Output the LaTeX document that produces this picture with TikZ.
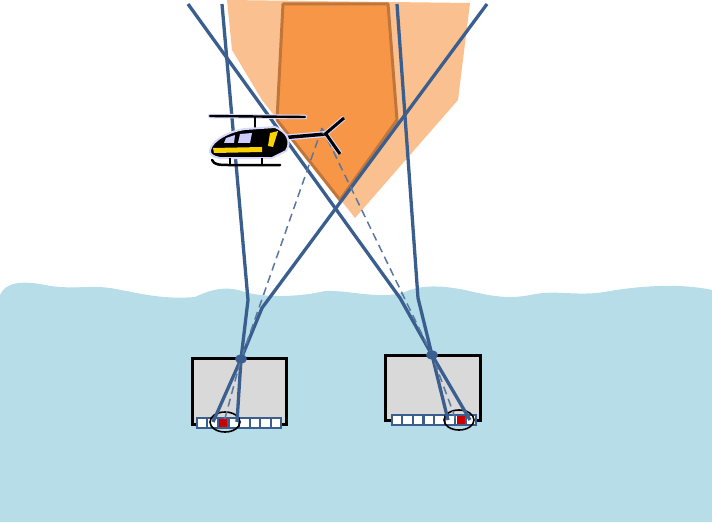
\documentclass[tikz,border=0pt]{standalone}
\begin{document}
\begin{tikzpicture}[x=1pt,y=-1pt,
 ray/.style={draw=rayblue,line width=3.3pt},
 dray/.style={draw=rayblue!85,line width=1.5pt,dash pattern=on 8pt off 5pt},
 cam/.style={draw=black,line width=3pt,fill=boxgray},
 cell/.style={draw=rayblue,line width=1.5pt,fill=white,minimum size=10pt,inner sep=0pt},
 heli/.style={line width=1pt,line join=round}]
\definecolor{rayblue}{HTML}{3A5F8F}
\definecolor{water}{HTML}{B7DDE8}
\definecolor{lor}{HTML}{FAC090}
\definecolor{dor}{HTML}{F79646}
\definecolor{bor}{HTML}{C0763A}
\definecolor{boxgray}{HTML}{D9D9D9}
\useasboundingbox (0,0) rectangle (712,524);
% water
\fill[water] (0,295) .. controls (5,283) and (20,280) .. (45,285) .. controls (70,290) and (90,285) .. (110,288)
 .. controls (135,292) and (160,300) .. (195,297) .. controls (210,290) and (225,285) .. (245,292)
 .. controls (265,298) and (300,297) .. (325,291) .. controls (350,290) and (380,300) .. (405,292)
 .. controls (420,285) and (440,285) .. (465,290) .. controls (490,296) and (510,300) .. (535,294)
 .. controls (560,290) and (580,297) .. (610,291) .. controls (640,286) and (680,283) .. (712,290)
 -- (712,522) -- (0,522) -- cycle;
% fields of view
\fill[lor] (227,0) -- (470,3) -- (458,100) -- (355,218) -- (262,100) -- (232,50) -- cycle;
\filldraw[fill=dor,draw=bor,line width=3pt,line join=round] (283,4) -- (388,4) -- (397,120) -- (340,200) -- (277,120) -- cycle;
% cameras
\draw[cam] (192,358) rectangle (286,424);
\draw[cam] (385,355) rectangle (480,420);
\coordinate (cl) at (241,359);
\coordinate (cr) at (432,355);
\foreach \i in {0,...,7}{\node[cell] (l\i) at (202+\i*10.6,423) {};}
\foreach \i in {0,...,7}{\node[cell] (r\i) at (397+\i*10.6,420) {};}
\fill[red!80!black] (l2.center) ++(-4,-4) rectangle ++(8,8);
\fill[red!80!black] (r6.center) ++(-4,-4) rectangle ++(8,8);
\draw[black,line width=1.6pt] (225,422) ellipse [x radius=15,y radius=10];
\draw[black,line width=1.6pt] (459,420) ellipse [x radius=15,y radius=10];
% rays
\coordinate (tail) at (322,128);
\draw[ray] (188,4) -- (400,298) -- (cr);
\draw[ray] (487,4) -- (262,308) -- (cl);
\draw[ray] (222,4) -- (248,300) -- (cl);
\draw[ray] (397,4) -- (418,298) -- (cr);
\draw[ray] (cl) -- (213,422); \draw[ray] (cl) -- (237,422);
\draw[ray] (cr) -- (448,420); \draw[ray] (cr) -- (470,420);
\draw[dray] (tail) -- (cl) -- (224,422);
\draw[dray] (tail) -- (cr) -- (456,420);
\fill[rayblue] (cl) ellipse [x radius=6,y radius=4.5];
\fill[rayblue] (cr) ellipse [x radius=6,y radius=4.5];
% helicopter
\begin{scope}[heli]
\draw[line width=4.5pt,line cap=round,draw=blue!15] (210,116) -- (305,117);
\draw[line width=2.4pt,line cap=round] (210,116) -- (305,117);
\draw[line width=2pt] (255,116) -- (255,129);
\draw[line width=6pt,draw=blue!15] (280,138) -- (326,134);
\draw[line width=3.5pt] (280,138) -- (326,134);
\draw[draw=blue!15,line width=5pt] (324,135) -- (344,118) (326,134) -- (340,154);
\draw[line width=3pt] (324,135) -- (344,118) (326,134) -- (340,154);
\filldraw[fill=black,draw=blue!15,line width=2pt] (210,150) .. controls (212,140) and (230,131) .. (245,129) -- (275,127) .. controls (287,132) and (292,141) .. (286,151) -- (272,158) -- (220,158) .. controls (213,157) and (209,154) .. (210,150) -- cycle;
\fill[white!80!blue] (240,134) -- (252,133) -- (250,143) -- (238,143) -- cycle;
\fill[white!80!blue] (226,138) -- (235,135) -- (234,143) -- (224,143) -- cycle;
\fill[yellow!70!orange] (270,133) -- (278,131) -- (273,147) -- (268,146) -- cycle;
\fill[yellow!70!orange] (213,148) -- (262,147) -- (262,152) -- (214,153) -- cycle;
\draw[line width=2pt] (230,158) -- (230,164) (262,158) -- (262,164);
\draw[line width=2.5pt,line cap=round] (212,160) .. controls (214,165) and (220,165) .. (228,165) -- (280,165);
\end{scope}
\end{tikzpicture}
\end{document}
